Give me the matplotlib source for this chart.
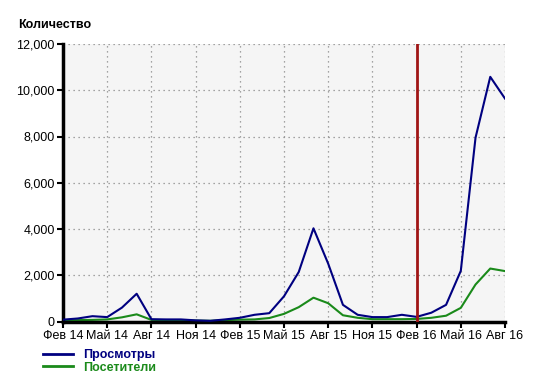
import matplotlib
matplotlib.use('Agg')
import matplotlib.pyplot as plt
from matplotlib.lines import Line2D

plt.rcParams['font.family'] = ['Liberation Sans', 'DejaVu Sans']

# months Feb 14 .. Aug 16
months = list(range(31))
tick_pos = list(range(0, 31, 3))
tick_labels = ['Фев 14', 'Май 14', 'Авг 14', 'Ноя 14', 'Фев 15', 'Май 15',
               'Авг 15', 'Ноя 15', 'Фев 16', 'Май 16', 'Авг 16']

views = [80, 130, 230, 190, 600, 1200, 100, 90, 90, 50, 30, 90,
         160, 290, 360, 1090, 2140, 4030, 2500, 720, 290, 190, 190, 290,
         200, 380, 720, 2190, 7950, 10580, 9640]
visitors = [50, 60, 70, 90, 180, 310, 70, 60, 60, 40, 30, 60,
            80, 90, 150, 330, 620, 1030, 790, 270, 160, 100, 100, 100,
            110, 160, 250, 590, 1600, 2290, 2180]
marker_month = 24  # Фев 16

fig = plt.figure(figsize=(5.56, 3.86), dpi=100)
ax = fig.add_axes([63/556, 1 - 321.5/386, 442/556, 277.5/386])
ax.set_facecolor('#f5f5f5')

ax.plot(months, views, color='#000080', linewidth=1.5, zorder=3)
ax.plot(months, visitors, color='#1a8a1a', linewidth=1.5, zorder=2)
ax.axvline(marker_month, color='#a01515', linewidth=2, zorder=4)

ax.set_xlim(0, 30)
ax.set_ylim(0, 12000)
ax.set_xticks(tick_pos)
ax.set_xticklabels(tick_labels)
ax.set_yticks(range(0, 12001, 2000))
ax.set_yticklabels(['0', '2,000', '4,000', '6,000', '8,000', '10,000', '12,000'])
ax.tick_params(axis='both', labelsize=9, length=4, width=1.5, direction='out', pad=2)
ax.grid(True, linestyle=(0, (1, 3)), color='#888888', linewidth=0.9)

for s in ['top', 'right']:
    ax.spines[s].set_visible(False)
for s in ['left', 'bottom']:
    ax.spines[s].set_linewidth(2.5)

fig.text(18/556, 1 - 25/386, 'Количество', fontsize=9, fontweight='bold', va='center', ha='left')

handles = [Line2D([], [], color='#000080', linewidth=2, label='Просмотры'),
           Line2D([], [], color='#1a8a1a', linewidth=2, label='Посетители')]
fig.legend(handles=handles, loc='upper left', bbox_to_anchor=(43/556, 1 - 349/386),
           frameon=False, labelcolor='linecolor', handlelength=2.4, handletextpad=0.8,
           labelspacing=0.05, borderaxespad=0, borderpad=0,
           prop={'weight': 'bold', 'size': 9})

fig.savefig('out.png', dpi=100)
